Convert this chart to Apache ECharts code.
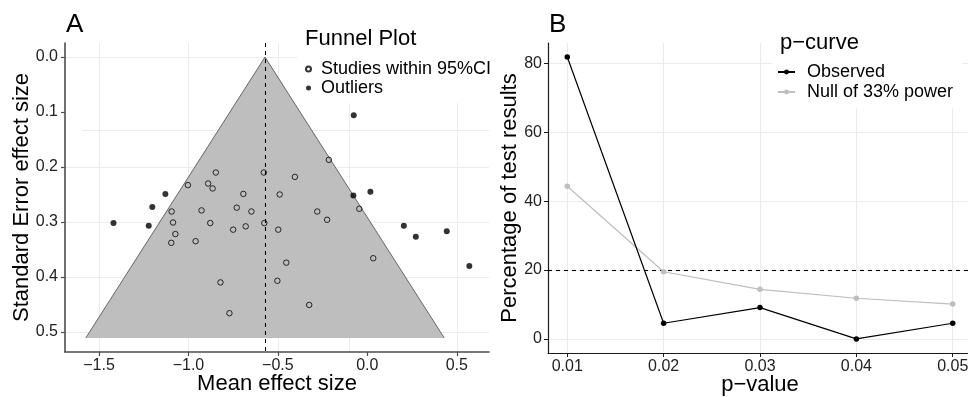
<!DOCTYPE html>
<html><head><meta charset="utf-8">
<script src="https://cdn.jsdelivr.net/npm/echarts@6/dist/echarts.min.js"></script>
<style>html,body{margin:0;padding:0;background:#fff}#c{width:968px;height:397px}</style>
</head><body><div id="c"></div>
<script>
// ---------- Panel A: funnel plot data ----------
const studiesX = [-0.847,-1.003,-0.890,-0.865,-0.579,-0.693,-0.490,-1.094,-0.927,-0.730,-0.648,-1.086,-0.878,-0.576,-1.073,-0.750,-0.680,-0.498,-1.096,-0.960,-0.821,-0.771,-0.503,-0.405,-0.280,-0.225,-0.045,0.033,-0.453,-0.325,-0.215];
const studiesY = [0.210,0.233,0.230,0.239,0.210,0.249,0.250,0.281,0.279,0.274,0.281,0.301,0.302,0.302,0.322,0.314,0.308,0.314,0.338,0.335,0.410,0.466,0.407,0.218,0.281,0.296,0.276,0.366,0.374,0.451,0.187];
const outlierX = [-0.076,-1.129,-1.202,-1.419,-1.222,-0.078,0.017,0.204,0.271,0.444,0.570];
const outlierY = [0.106,0.249,0.273,0.302,0.307,0.252,0.245,0.307,0.327,0.317,0.380];
const funnelX = [-1.574,-0.572,0.430];
const funnelY = [0.511,0.000,0.511];
const summaryEffect = -0.572;
const aXTicks = [-1.5,-1.0,-0.5,0.0,0.5];
const aYTicks = [0.0,0.1,0.2,0.3,0.4,0.5];

// ---------- Panel B: p-curve data ----------
const pValues = [0.01,0.02,0.03,0.04,0.05];
const observed = [81.82,4.55,9.09,0.00,4.55];
const null33 = [44.3,19.5,14.4,11.8,10.1];
const nullRef = 20;
const bXTicks = [0.01,0.02,0.03,0.04,0.05];
const bYTicks = [0,20,40,60,80];

// ---------- layout / style ----------
const FONT = 'Liberation Sans, Arial, Helvetica, sans-serif';
const GRIDC = '#EBEBEB';
const aX = {min:-1.69, max:0.68}, aY = {min:-0.0256, max:0.5366};
const bX = {min:0.008, max:0.052}, bY = {min:-4.09, max:85.9};
const fmtNeg = (v,d)=> (v<0?'\u2212':'') + Math.abs(v).toFixed(d);

// background grid segments (as seen in the reference)
const gridA = [
  [[-1.5,aY.min],[-1.5,aY.max]],[[-1.0,aY.min],[-1.0,aY.max]],[[-0.5,aY.min],[-0.5,aY.max]],
  [[-0.1,0.0836],[-0.1,aY.max]],[[0.5,0.0836],[0.5,aY.max]],
  [[aX.min,0.0],[-0.39,0.0]],[[-1.593,0.1327],[aX.max,0.1327]],
  [[aX.min,0.2],[aX.max,0.2]],[[aX.min,0.3],[aX.max,0.3]],[[aX.min,0.4],[aX.max,0.4]],[[aX.min,0.5],[aX.max,0.5]]
];
const gridB = [
  [[0.01,bY.min],[0.01,bY.max]],[[0.02,bY.min],[0.02,bY.max]],[[0.03,bY.min],[0.03,bY.max]],
  [[0.04,bY.min],[0.04,67.05]],[[0.05,bY.min],[0.05,67.05]],
  [[bX.min,0],[bX.max,0]],[[bX.min,20],[bX.max,20]],[[bX.min,40],[bX.max,40]],[[bX.min,60],[bX.max,60]],
  [[bX.min,80],[0.03123,80]],[[0.0510,80],[bX.max,80]]
];
const segs = g => g.map(s=>[{coord:s[0]},{coord:s[1]}]);
const gridLineStyle = {color:GRIDC,width:1,type:'solid'};

const chart = echarts.init(document.getElementById('c'), null, {renderer:'canvas'});
const axisLabelStyle = {color:'#222', fontSize:16, fontFamily:FONT};
const nameStyle = {color:'#000', fontSize:22, fontFamily:FONT};

chart.setOption({
  animation:false,
  backgroundColor:'#fff',
  textStyle:{fontFamily:FONT},
  title:[
    {text:'A', left:61, top:7, textStyle:{fontSize:26, fontWeight:'normal', color:'#000', fontFamily:FONT}},
    {text:'B', left:544, top:7, textStyle:{fontSize:26, fontWeight:'normal', color:'#000', fontFamily:FONT}},
    {text:'Funnel Plot', left:300, top:23, textStyle:{fontSize:22, fontWeight:'normal', color:'#000', fontFamily:FONT}},
    {text:'p\u2212curve', left:775, top:27, textStyle:{fontSize:22, fontWeight:'normal', color:'#000', fontFamily:FONT}}
  ],
  legend:[
    {orient:'vertical', left:305, top:60, padding:0, itemGap:1, itemWidth:5, itemHeight:5,
     data:['Studies within 95%CI','Outliers'],
     textStyle:{fontSize:18, color:'#000', fontFamily:FONT, padding:[0,0,0,5]}},
    {orient:'vertical', left:777, top:63, padding:0, itemGap:2, itemWidth:17, itemHeight:6,
     data:['Observed','Null of 33% power'],
     textStyle:{fontSize:18, color:'#000', fontFamily:FONT, padding:[0,0,0,7]}}
  ],
  grid:[
    {left:65, top:43, right:479, bottom:45, outerBoundsMode:'none', containLabel:false},
    {left:548, top:43, right:-4, bottom:44, outerBoundsMode:'none', containLabel:false}
  ],
  xAxis:[
    {gridIndex:0, type:'value', min:aX.min, max:aX.max,
     name:'Mean effect size', nameLocation:'middle', nameGap:21, nameMoveOverlap:false, nameTextStyle:nameStyle,
     axisLine:{show:true, onZero:false, lineStyle:{color:'#4d4d4d', width:1.6}},
     axisTick:{show:true, length:4, customValues:aXTicks, lineStyle:{color:'#4d4d4d', width:1.2}},
     axisLabel:{customValues:aXTicks, margin:6, formatter:v=>fmtNeg(v,1), ...axisLabelStyle},
     splitLine:{show:false}},
    {gridIndex:1, type:'value', min:bX.min, max:bX.max,
     name:'p\u2212value', nameLocation:'middle', nameGap:21, nameMoveOverlap:false, nameTextStyle:nameStyle,
     axisLine:{show:true, onZero:false, lineStyle:{color:'#1a1a1a', width:1.2}},
     axisTick:{show:true, length:4, customValues:bXTicks, lineStyle:{color:'#1a1a1a', width:1}},
     axisLabel:{customValues:bXTicks, margin:6, formatter:v=>v.toFixed(2), ...axisLabelStyle},
     splitLine:{show:false}}
  ],
  yAxis:[
    {gridIndex:0, type:'value', inverse:true, min:aY.min, max:aY.max,
     name:'Standard Error effect size', nameLocation:'middle', nameGap:32, nameMoveOverlap:false, nameTextStyle:nameStyle,
     axisLine:{show:true, onZero:false, lineStyle:{color:'#4d4d4d', width:1.6}},
     axisTick:{show:true, length:4, customValues:aYTicks, lineStyle:{color:'#4d4d4d', width:1.2}},
     axisLabel:{customValues:aYTicks, margin:7, formatter:v=>fmtNeg(v,1), ...axisLabelStyle},
     splitLine:{show:false}},
    {gridIndex:1, type:'value', min:bY.min, max:bY.max,
     name:'Percentage of test results', nameLocation:'middle', nameGap:27, nameMoveOverlap:false, nameTextStyle:nameStyle,
     axisLine:{show:true, onZero:false, lineStyle:{color:'#1a1a1a', width:1.2}},
     axisTick:{show:true, length:4, customValues:bYTicks, lineStyle:{color:'#1a1a1a', width:1}},
     axisLabel:{customValues:bYTicks, margin:6, formatter:v=>String(v), ...axisLabelStyle},
     splitLine:{show:false}}
  ],
  series:[
    // grid lines A
    {type:'line', xAxisIndex:0, yAxisIndex:0, data:[], z:0, silent:true,
     markLine:{silent:true, z:0, symbol:'none', label:{show:false}, lineStyle:gridLineStyle, data:segs(gridA)}},
    // grid lines B
    {type:'line', xAxisIndex:1, yAxisIndex:1, data:[], z:0, silent:true,
     markLine:{silent:true, z:0, symbol:'none', label:{show:false}, lineStyle:gridLineStyle, data:segs(gridB)}},
    // funnel
    {type:'custom', xAxisIndex:0, yAxisIndex:0, z:1, silent:true,
     data:funnelX.map((x,i)=>[x,funnelY[i]]),
     renderItem:(params, api)=>{
       if (params.dataIndex !== 0) return null;
       const pts = funnelX.map((x,i)=>api.coord([x,funnelY[i]]));
       return {type:'group', children:[
         {type:'polygon', shape:{points:pts}, style:{fill:'#BEBEBE', stroke:null}},
         {type:'polyline', shape:{points:pts}, style:{fill:null, stroke:'#333', lineWidth:0.7}}
       ]};
     }},
    // summary dashed line
    {type:'line', xAxisIndex:0, yAxisIndex:0, data:[], z:2, silent:true,
     markLine:{silent:true, z:2, symbol:'none', label:{show:false},
       lineStyle:{color:'#000', width:1.1, type:[4,4]}, data:[{xAxis:summaryEffect}]}},
    {type:'scatter', name:'Studies within 95%CI', xAxisIndex:0, yAxisIndex:0, z:3,
     symbol:'circle', symbolSize:5.5,
     itemStyle:{color:'rgba(0,0,0,0)', borderColor:'#000', borderWidth:1},
     data:studiesX.map((x,i)=>[x,studiesY[i]])},
    {type:'scatter', name:'Outliers', xAxisIndex:0, yAxisIndex:0, z:3,
     symbol:'circle', symbolSize:6, itemStyle:{color:'#000'},
     data:outlierX.map((x,i)=>[x,outlierY[i]])},
    // panel B
    {type:'line', xAxisIndex:1, yAxisIndex:1, data:[], z:2, silent:true,
     markLine:{silent:true, z:2, symbol:'none', label:{show:false},
       lineStyle:{color:'#000', width:1.1, type:[4,4]}, data:[{yAxis:nullRef}]}},
    {type:'line', name:'Null of 33% power', xAxisIndex:1, yAxisIndex:1, z:3,
     symbol:'circle', symbolSize:5.5, showSymbol:true,
     lineStyle:{color:'#BEBEBE', width:1.2}, itemStyle:{color:'#BEBEBE'},
     data:pValues.map((p,i)=>[p,null33[i]])},
    {type:'line', name:'Observed', xAxisIndex:1, yAxisIndex:1, z:4,
     symbol:'circle', symbolSize:5.5, showSymbol:true,
     lineStyle:{color:'#000', width:1.2}, itemStyle:{color:'#000'},
     data:pValues.map((p,i)=>[p,observed[i]])}
  ]
});
</script></body></html>
